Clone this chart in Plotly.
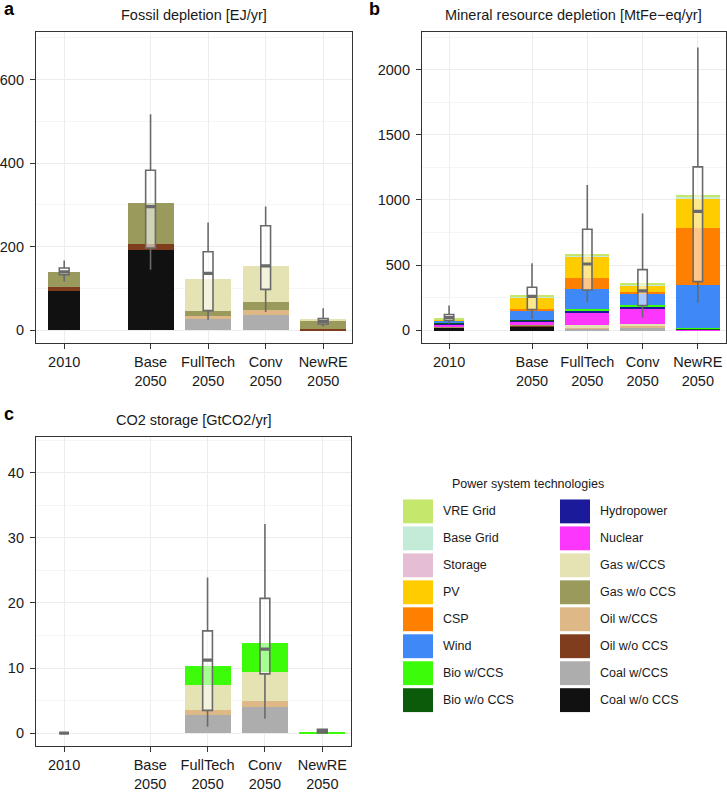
import plotly.graph_objects as go

W, H = 727, 792

categories = ["2010", "Base<br>2050", "FullTech<br>2050", "Conv<br>2050", "NewRE<br>2050"]
positions = [0, 1.5, 2.5, 3.5, 4.5]
bar_widths = [0.55, 0.8, 0.8, 0.8, 0.8]
box_width = 0.17

techs = ["Coal w/o CCS", "Coal w/CCS", "Oil w/o CCS", "Oil w/CCS", "Gas w/o CCS", "Gas w/CCS",
         "Nuclear", "Hydropower", "Bio w/o CCS", "Bio w/CCS", "Wind", "CSP", "PV",
         "Storage", "Base Grid", "VRE Grid"]
colors = {
    "VRE Grid": "#C5E86C", "Base Grid": "#C4EBD8", "Storage": "#E6BED4", "PV": "#FFCC00",
    "CSP": "#FF8000", "Wind": "#3F88F7", "Bio w/CCS": "#3CFC0A", "Bio w/o CCS": "#0B5B0B",
    "Hydropower": "#1A1A9A", "Nuclear": "#FC36FC", "Gas w/CCS": "#E5E3B3", "Gas w/o CCS": "#9A9A5C",
    "Oil w/CCS": "#DEB887", "Oil w/o CCS": "#7F3D1D", "Coal w/CCS": "#ADADAD", "Coal w/o CCS": "#111111",
}
legend_left = ["VRE Grid", "Base Grid", "Storage", "PV", "CSP", "Wind", "Bio w/CCS", "Bio w/o CCS"]
legend_right = ["Hydropower", "Nuclear", "Gas w/CCS", "Gas w/o CCS", "Oil w/CCS", "Oil w/o CCS", "Coal w/CCS", "Coal w/o CCS"]

# Panel a: Fossil depletion [EJ/yr]
fossil = {
    "Coal w/o CCS": [94, 193, 0, 0, 0],
    "Coal w/CCS": [0, 0, 27, 37, 0],
    "Oil w/o CCS": [10, 14, 0, 0, 3],
    "Oil w/CCS": [0, 0, 8, 12, 0],
    "Gas w/o CCS": [37, 99, 12, 19, 21],
    "Gas w/CCS": [0, 0, 75, 86, 1.5],
}
fossil_box = {  # lower, q1, median, q3, upper
    "lower": [117, 145, 25, 44, 9],
    "q1": [133, 197, 47, 98, 15],
    "median": [140, 296, 136, 154, 21],
    "q3": [149, 383, 188, 250, 28],
    "upper": [167, 517, 258, 296, 53],
}

# Panel b: Mineral resource depletion [MtFe-eq/yr]
mineral = {
    "Coal w/o CCS": [22, 33, 0, 0, 0],
    "Coal w/CCS": [0, 0, 18, 20, 0],
    "Oil w/o CCS": [3, 5, 0, 0, 0],
    "Oil w/CCS": [0, 0, 8, 12, 0],
    "Gas w/o CCS": [2, 3, 0, 0, 0],
    "Gas w/CCS": [0, 0, 15, 20, 0],
    "Nuclear": [18, 30, 100, 120, 4],
    "Hydropower": [12, 8, 10, 12, 4],
    "Bio w/o CCS": [2, 2, 0, 0, 8],
    "Bio w/CCS": [0, 0, 12, 15, 4],
    "Wind": [20, 76, 155, 80, 330],
    "CSP": [0, 10, 82, 20, 440],
    "PV": [5, 85, 165, 45, 222],
    "Base Grid": [4, 8, 8, 8, 15],
    "VRE Grid": [1, 7, 12, 6, 15],
}
mineral_box = {
    "lower": [51, 89, 216, 97, 211],
    "q1": [76, 160, 310, 191, 374],
    "median": [97, 260, 509, 303, 913],
    "q3": [122, 331, 776, 466, 1254],
    "upper": [191, 514, 1115, 896, 2170],
}

# Panel c: CO2 storage [GtCO2/yr]
co2 = {
    "Coal w/CCS": [0, 0, 2.85, 4.0, 0],
    "Oil w/CCS": [0, 0, 0.75, 1.0, 0],
    "Gas w/CCS": [0, 0, 3.8, 4.4, 0],
    "Bio w/CCS": [0, 0, 2.9, 4.5, 0.15],
}
co2_box = {
    "lower": [0, None, 1.0, 2.2, 0.0],
    "q1": [0, None, 3.5, 9.1, 0.05],
    "median": [0, None, 11.2, 12.9, 0.3],
    "q3": [0, None, 15.7, 20.7, 0.6],
    "upper": [0, None, 23.9, 32.1, 0.6],
}

panels = [
    dict(data=fossil, box=fossil_box, x="x", y="y", title="Fossil depletion [EJ/yr]", letter="a",
         dom_x=(36, 352), dom_y=(32, 345), yrange=[-31, 714], ytick=[0, 200, 400, 600], minor=100),
    dict(data=mineral, box=mineral_box, x="x2", y="y2", title="Mineral resource depletion [MtFe\u2212eq/yr]", letter="b",
         dom_x=(422, 725.5), dom_y=(32, 345), yrange=[-99, 2290], ytick=[0, 500, 1000, 1500, 2000], minor=250),
    dict(data=co2, box=co2_box, x="x3", y="y3", title="CO2 storage [GtCO2/yr]", letter="c",
         dom_x=(36, 351), dom_y=(439, 750), yrange=[-2.0, 45.5], ytick=[0, 10, 20, 30, 40], minor=5),
]

FONT = "Liberation Sans, Arial, sans-serif"
fig = go.Figure()
annotations = []
shapes = []
layout_axes = {}

for i, p in enumerate(panels):
    for t in techs:
        if t in p["data"]:
            fig.add_trace(go.Bar(
                x=positions, y=p["data"][t], width=bar_widths, name=t,
                marker=dict(color=colors[t], line=dict(width=0)),
                xaxis=p["x"], yaxis=p["y"], showlegend=False, hoverinfo="skip"))
    b = p["box"]
    idx = [k for k in range(len(positions)) if b["median"][k] is not None]
    fig.add_trace(go.Box(
        x=[positions[k] for k in idx],
        lowerfence=[b["lower"][k] for k in idx], q1=[b["q1"][k] for k in idx],
        median=[b["median"][k] for k in idx], q3=[b["q3"][k] for k in idx],
        upperfence=[b["upper"][k] for k in idx],
        width=box_width, whiskerwidth=0, fillcolor="rgba(255,255,255,0.55)",
        line=dict(color="#6a6a6a", width=1.6), xaxis=p["x"], yaxis=p["y"],
        showlegend=False, hoverinfo="skip", boxpoints=False))
    mx, my = [], []
    for k in idx:
        mx += [positions[k] - box_width / 2, positions[k] + box_width / 2, None]
        my += [b["median"][k], b["median"][k], None]
    fig.add_trace(go.Scatter(x=mx, y=my, mode="lines", line=dict(color="#6a6a6a", width=3.2),
                             xaxis=p["x"], yaxis=p["y"], showlegend=False, hoverinfo="skip"))

    xa = "xaxis" + p["x"][1:]
    ya = "yaxis" + p["y"][1:]
    layout_axes[xa] = dict(
        domain=[p["dom_x"][0] / W, p["dom_x"][1] / W], anchor=p["y"], range=[-0.49, 5.0],
        tickvals=positions, ticktext=categories, ticks="outside", ticklen=5, tickwidth=1.2,
        tickcolor="#333333", showline=True, mirror=True, linecolor="#333333", linewidth=1.2,
        showgrid=True, gridcolor="#ECECEC", gridwidth=1, zeroline=False,
        tickfont=dict(size=14.5, color="#1a1a1a", family=FONT))
    layout_axes[ya] = dict(
        domain=[1 - p["dom_y"][1] / H, 1 - p["dom_y"][0] / H], anchor=p["x"], range=p["yrange"],
        tickvals=p["ytick"], ticks="outside", ticklen=5, tickwidth=1.2, tickcolor="#333333",
        showline=True, mirror=True, linecolor="#333333", linewidth=1.2, ticklabelstandoff=3,
        showgrid=True, gridcolor="#ECECEC", gridwidth=1, zeroline=False,
        minor=dict(dtick=p["minor"], tick0=0, showgrid=True, gridcolor="#F5F5F5", gridwidth=1, ticks=""),
        tickfont=dict(size=14.5, color="#1a1a1a", family=FONT))
    cx = (p["dom_x"][0] + p["dom_x"][1]) / 2 / W
    ty = 1 - (p["dom_y"][0] - 17) / H
    annotations.append(dict(text=p["title"], x=cx, y=ty, xref="paper", yref="paper",
                            showarrow=False, font=dict(size=14.5, color="#1a1a1a", family=FONT),
                            xanchor="center", yanchor="middle"))
    lx = 2 / W if i != 1 else 367 / W
    ly = 1 - (p["dom_y"][0] - 23) / H
    annotations.append(dict(text="<b>%s</b>" % p["letter"], x=lx, y=ly, xref="paper", yref="paper",
                            showarrow=False, font=dict(size=18, color="#000000", family=FONT),
                            xanchor="left", yanchor="middle"))

# Manual legend
annotations.append(dict(text="Power system technologies", x=528 / W, y=1 - 486 / H, xref="paper", yref="paper",
                        showarrow=False, font=dict(size=12.5, color="#1a1a1a", family=FONT),
                        xanchor="center", yanchor="middle"))
for col, (names, sx, tx) in enumerate([(legend_left, 403, 441), (legend_right, 560, 598)]):
    for r, name in enumerate(names):
        cy = 514 + 27.1 * r
        shapes.append(dict(type="rect", xref="paper", yref="paper",
                           x0=sx / W, x1=(sx + 30) / W, y0=1 - (cy + 12) / H, y1=1 - (cy - 12) / H,
                           fillcolor=colors[name], line=dict(width=0)))
        annotations.append(dict(text=name, x=tx / W, y=1 - cy / H, xref="paper", yref="paper",
                                showarrow=False, font=dict(size=12.5, color="#1a1a1a", family=FONT),
                                xanchor="left", yanchor="middle"))

fig.update_layout(
    width=W, height=H, margin=dict(l=0, r=0, t=0, b=0),
    paper_bgcolor="white", plot_bgcolor="white", barmode="stack", bargap=0,
    annotations=annotations, shapes=shapes, showlegend=False,
    font=dict(family=FONT), **layout_axes)

fig.write_html("out.html", config={"displayModeBar": False},
               post_script="document.body.style.margin='0';document.body.style.overflow='hidden';")
